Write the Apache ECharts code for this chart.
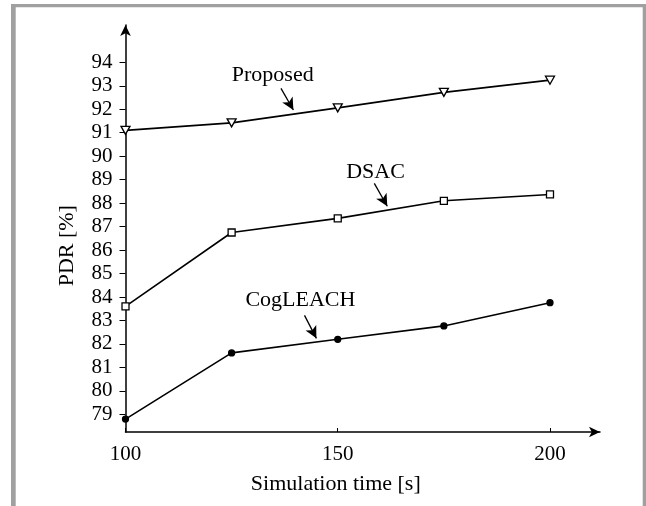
<!DOCTYPE html>
<html><head><meta charset="utf-8">
<script src="https://cdn.jsdelivr.net/npm/echarts@6/dist/echarts.min.js"></script>
<style>html,body{margin:0;padding:0;background:#fff}#c{width:646px;height:506px}</style>
</head><body><div id="c"></div>
<script>
// ---- data ----
const simTime = [100, 125, 150, 175, 200];
const proposed = [91.1, 91.42, 92.06, 92.72, 93.24];
const dsac = [83.6, 86.75, 87.35, 88.1, 88.37];
const cogleach = [78.8, 81.62, 82.2, 82.77, 83.76];
const xTickLabels = [100, 150, 200];
const yTickLabels = [79, 80, 81, 82, 83, 84, 85, 86, 87, 88, 89, 90, 91, 92, 93, 94];
const seriesNames = ['Proposed', 'DSAC', 'CogLEACH'];
const xAxisTitle = 'Simulation time [s]';
const yAxisTitle = 'PDR [%]';

// annotation anchors (in data units): label centre, arrow start, arrow tip
const annotationPos = [
  { label: [134.68, 93.43], from: [136.63, 92.89], to: [139.55, 91.97] },
  { label: [158.89, 89.30], from: [158.61, 88.84], to: [161.67, 87.87] },
  { label: [141.2, 83.88], from: [142.17, 83.22], to: [144.97, 82.24] }
];

const FONT = '"Liberation Serif", "Times New Roman", serif';
const chart = echarts.init(document.getElementById('c'), null, { renderer: 'canvas' });

function pairs(vals) { return simTime.map((x, i) => [x, vals[i]]); }

function makeSeries(name, vals, symbol, size, rotate, fill, ann) {
  return {
    name: name,
    type: 'line',
    data: pairs(vals),
    symbol: symbol,
    symbolSize: size,
    symbolRotate: rotate,
    showAllSymbol: true,
    lineStyle: { color: '#000', width: 1.6 },
    itemStyle: { color: fill, borderColor: '#000', borderWidth: 1.3 },
    emphasis: { disabled: true },
    z: 3,
    markLine: {
      silent: true,
      animation: false,
      symbol: ['none', 'arrow'],
      symbolSize: 11,
      label: { show: false },
      lineStyle: { color: '#000', width: 1.3, type: 'solid' },
      emphasis: { disabled: true },
      data: [[{ coord: ann.from, symbol: 'none' }, { coord: ann.to, symbol: 'arrow', symbolSize: [9, 12] }]]
    },
    markPoint: {
      silent: true,
      animation: false,
      data: [{
        coord: ann.label,
        symbol: 'rect',
        symbolSize: 1,
        itemStyle: { color: 'rgba(0,0,0,0)' },
        label: { show: true, position: 'inside', formatter: name, fontSize: 22, color: '#000', fontFamily: FONT }
      }]
    }
  };
}

const option = {
  animation: false,
  backgroundColor: '#fff',
  grid: { left: 125.5, right: 46, top: 25, bottom: 74, containLabel: false },
  xAxis: {
    type: 'value',
    min: 100,
    max: 211.78,
    axisLine: { show: true, onZero: false, symbol: ['none', 'arrow'], symbolSize: [8, 11], lineStyle: { color: '#000', width: 1.5 } },
    axisTick: { show: true, inside: true, length: 4, customValues: xTickLabels, lineStyle: { color: '#000', width: 1 } },
    axisLabel: { customValues: xTickLabels, margin: 12, fontSize: 21, color: '#000', fontFamily: FONT },
    splitLine: { show: false }
  },
  yAxis: {
    type: 'value',
    min: 78.25,
    max: 95.59,
    axisLine: { show: true, onZero: false, symbol: ['none', 'arrow'], symbolSize: [8, 11], lineStyle: { color: '#000', width: 1.5 } },
    axisTick: { show: true, inside: false, length: 6, customValues: yTickLabels, lineStyle: { color: '#000', width: 1 } },
    axisLabel: { customValues: yTickLabels, margin: 13, fontSize: 21, color: '#000', fontFamily: FONT },
    splitLine: { show: false }
  },
  graphic: [
    { type: 'rect', shape: { x: 11, y: 4, width: 4.7, height: 502 }, style: { fill: '#a0a0a0' }, silent: true },
    { type: 'rect', shape: { x: 11, y: 4, width: 635, height: 3.3 }, style: { fill: '#a0a0a0' }, silent: true },
    { type: 'rect', shape: { x: 642.7, y: 4, width: 3.3, height: 502 }, style: { fill: '#a0a0a0' }, silent: true },
    { type: 'text', x: 335.8, y: 484, silent: true,
      style: { text: xAxisTitle, fontSize: 22, fontFamily: FONT, fill: '#000', align: 'center', verticalAlign: 'middle' } },
    { type: 'text', x: 67, y: 245.7, rotation: Math.PI / 2, silent: true,
      style: { text: yAxisTitle, fontSize: 22, fontFamily: FONT, fill: '#000', align: 'center', verticalAlign: 'middle' } }
  ],
  series: [
    makeSeries(seriesNames[0], proposed, 'triangle', [9, 8], 180, '#fff', annotationPos[0]),
    makeSeries(seriesNames[1], dsac, 'rect', 7, 0, '#fff', annotationPos[1]),
    makeSeries(seriesNames[2], cogleach, 'circle', 6, 0, '#000', annotationPos[2])
  ]
};
chart.setOption(option);
</script>
</body></html>
